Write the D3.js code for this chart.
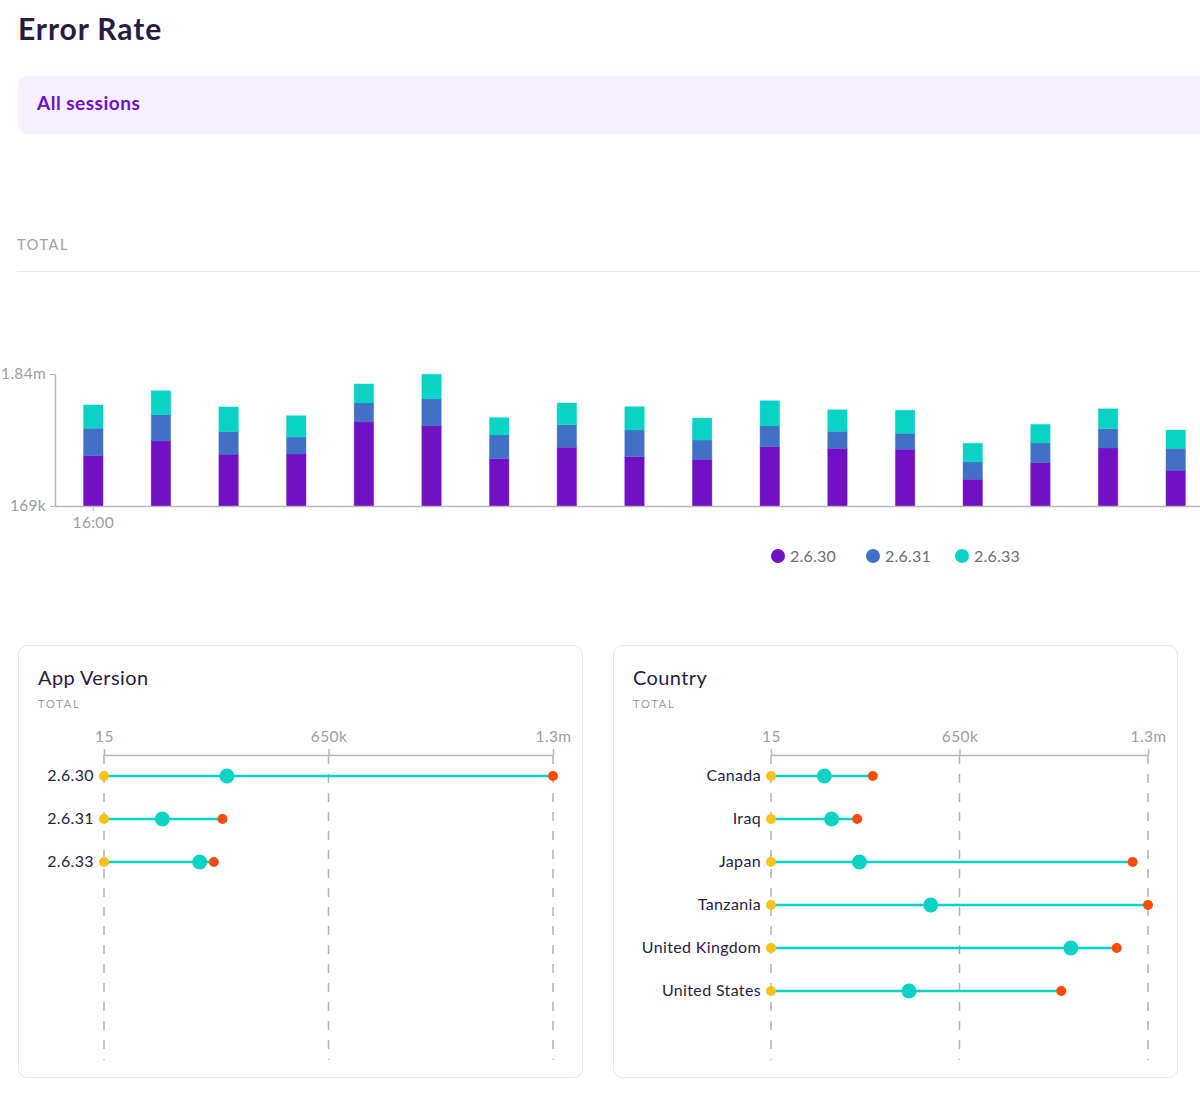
<!DOCTYPE html>
<html>
<head>
<meta charset="utf-8">
<script src="https://cdn.jsdelivr.net/npm/d3@7"></script>
<style>
  body { margin: 0; background: #fff; }
  svg { display: block; font-family: Lato, "Noto Sans", sans-serif; }
</style>
</head>
<body>
<div id="error_rate"></div>
<script>
// ---- data ----
var times = ["16:00", "16:05", "16:10", "16:15", "16:20", "16:25", "16:30", "16:35", "16:40",
             "16:45", "16:50", "16:55", "17:00", "17:05", "17:10", "17:15", "17:20"];
var versions = ["2.6.30", "2.6.31", "2.6.33"];
var v2630 = [806000, 992000, 824000, 827000, 1232000, 1182000, 768000, 912000, 793000,
             760000, 920000, 899000, 887000, 507000, 717000, 903000, 621000];
var v2631 = [347000, 333000, 286000, 215000, 241000, 342000, 300000, 286000, 338000,
             244000, 262000, 215000, 203000, 219000, 249000, 244000, 278000];
var v2633 = [295000, 304000, 313000, 270000, 241000, 313000, 219000, 275000, 295000,
             278000, 320000, 273000, 291000, 237000, 237000, 253000, 232000];
var totalTicks = [169000, 1840000];

var appVersions = ["2.6.30", "2.6.31", "2.6.33"];
var appMin = [15, 15, 15];
var appMid = [356000, 169000, 277000];
var appMax = [1300000, 343000, 318000];

var countries = ["Canada", "Iraq", "Japan", "Tanzania", "United Kingdom", "United States"];
var countryMin = [15, 15, 15, 15, 15, 15];
var countryMid = [184000, 209000, 305000, 551000, 1034000, 476000];
var countryMax = [351000, 297000, 1247000, 1300000, 1192000, 1001000];
var rangeTicks = [15, 650000, 1300000];

var colors = { "2.6.30": "#7210c5", "2.6.31": "#4270c5", "2.6.33": "#0ad3c6" };
var dark = "#2b1b42", grey = "#9d9d9d", axisGrey = "#b8b8b8";
var minColor = "#fbc117", maxColor = "#ff4a0a", midColor = "#0ad3c6";

function fmt(v) {
  if (v >= 1e6) return +(v / 1e6).toFixed(2) + "m";
  if (v >= 1e3) return Math.round(v / 1e3) + "k";
  return String(v);
}

var svg = d3.select("#error_rate")
  .append("svg")
    .attr("width", 1200)
    .attr("height", 1093);

// header
svg.append("text")
  .attr("x", 18).attr("y", 40)
  .attr("font-size", 30).attr("font-weight", 700)
  .attr("letter-spacing", 0.9)
  .attr("fill", dark)
  .text("Error Rate");

svg.append("rect")
  .attr("x", 18).attr("y", 76)
  .attr("width", 1200).attr("height", 58)
  .attr("rx", 9)
  .attr("fill", "#f6effd");
svg.append("text")
  .attr("x", 37).attr("y", 110)
  .attr("font-size", 19).attr("font-weight", 700)
  .attr("letter-spacing", 0.5)
  .attr("fill", "#6d12c9")
  .text("All sessions");

svg.append("text")
  .attr("x", 17).attr("y", 250)
  .attr("font-size", 14.5).attr("letter-spacing", 1.6)
  .attr("fill", "#a2a2a2")
  .text("TOTAL");
svg.append("line")
  .attr("x1", 17).attr("x2", 1200)
  .attr("y1", 271.5).attr("y2", 271.5)
  .attr("stroke", "#e7e7e7");

// ---- stacked bars ----
var rows = times.map(function(t, i) {
  return { time: t, "2.6.30": v2630[i], "2.6.31": v2631[i], "2.6.33": v2633[i] };
});
var series = d3.stack().keys(versions)(rows);

var xScale = d3.scaleBand()
  .domain(times)
  .range([55, 1214])
  .paddingInner(0.712)
  .paddingOuter(0.422);

var yScale = d3.scaleLinear()
  .domain([totalTicks[0], totalTicks[1]])
  .range([506, 374])
  .clamp(true);

var bars = svg.append("g");
bars.selectAll("g")
  .data(series)
  .enter().append("g")
    .attr("fill", function(d) { return colors[d.key]; })
    .attr("stroke", function(d) { return colors[d.key]; })
    .attr("stroke-opacity", 0.35)
  .selectAll("rect")
  .data(function(d) { return d; })
  .enter().append("rect")
    .attr("x", function(d) { return xScale(d.data.time); })
    .attr("width", xScale.bandwidth())
    .attr("y", function(d) { return yScale(d[1]); })
    .attr("height", function(d) { return yScale(d[0]) - yScale(d[1]); });

var yAxis = svg.append("g")
  .attr("transform", "translate(55,0)")
  .call(d3.axisLeft(yScale).tickValues(totalTicks).tickFormat(fmt).tickSize(5).tickSizeOuter(0));
var xAxis = svg.append("g")
  .attr("transform", "translate(0,506)")
  .call(d3.axisBottom(xScale).tickValues([times[0]]).tickSize(5).tickSizeOuter(0));

[yAxis, xAxis].forEach(function(a) {
  a.select(".domain").attr("stroke", axisGrey).attr("stroke-width", 1.5);
  a.selectAll(".tick line").attr("stroke", axisGrey);
  a.selectAll(".tick text")
    .attr("fill", grey)
    .attr("font-size", 15.5)
    .attr("letter-spacing", 0.3)
    .attr("font-family", "Lato, 'Noto Sans', sans-serif");
});
yAxis.selectAll(".tick text").attr("x", -9);
xAxis.selectAll(".tick text").attr("dy", "0.9em");

// legend
var legendX = [778, 873, 962];
var legend = svg.append("g").selectAll("g")
  .data(versions)
  .enter().append("g")
    .attr("transform", function(d, i) { return "translate(" + legendX[i] + ",556)"; });
legend.append("circle").attr("r", 7).attr("fill", function(d) { return colors[d]; });
legend.append("text")
  .attr("x", 12).attr("dy", "0.35em")
  .attr("font-size", 16).attr("letter-spacing", 0.2)
  .attr("fill", "#6f6f6f")
  .text(function(d) { return d; });

// ---- range panels ----
function drawPanel(left, title, labels, mins, mids, maxs, x0, x1) {
  var g = svg.append("g");

  g.append("rect")
    .attr("x", left + 0.5).attr("y", 645.5)
    .attr("width", 564).attr("height", 432)
    .attr("rx", 9)
    .attr("fill", "#fff")
    .attr("stroke", "#e6e6e6");

  g.append("text")
    .attr("x", left + 20).attr("y", 685)
    .attr("font-size", 20).attr("letter-spacing", 0.4)
    .attr("fill", dark)
    .text(title);
  g.append("text")
    .attr("x", left + 20).attr("y", 708)
    .attr("font-size", 11).attr("letter-spacing", 1.8)
    .attr("fill", grey)
    .text("TOTAL");

  var xs = d3.scaleLinear()
    .domain([rangeTicks[0], rangeTicks[2]])
    .range([x0, x1]);
  var ys = d3.scalePoint()
    .domain(labels)
    .range([776, 776 + 43 * (labels.length - 1)]);

  // dashed guides
  g.append("g").selectAll("line")
    .data(rangeTicks)
    .enter().append("line")
      .attr("x1", function(d) { return xs(d); })
      .attr("x2", function(d) { return xs(d); })
      .attr("y1", 755).attr("y2", 1060)
      .attr("stroke", "#b3b3b3")
      .attr("stroke-width", 1.5)
      .attr("stroke-dasharray", "9,10");

  var ax = g.append("g")
    .attr("transform", "translate(0,755)")
    .call(d3.axisTop(xs).tickValues(rangeTicks).tickFormat(fmt).tickSize(6).tickSizeOuter(0));
  ax.select(".domain").attr("stroke", axisGrey).attr("stroke-width", 1.5);
  ax.selectAll(".tick line").attr("stroke", axisGrey).attr("stroke-width", 1.5);
  ax.selectAll(".tick text")
    .attr("fill", grey).attr("font-size", 15.5)
    .attr("letter-spacing", 0.4)
    .attr("font-family", "Lato, 'Noto Sans', sans-serif")
    .attr("y", -13);

  var row = g.append("g").selectAll("g")
    .data(labels)
    .enter().append("g")
      .attr("transform", function(d) { return "translate(0," + ys(d) + ")"; });

  row.append("text")
    .attr("x", x0 - 10).attr("dy", "0.32em")
    .attr("text-anchor", "end")
    .attr("font-size", 16).attr("letter-spacing", 0.35)
    .attr("fill", dark)
    .text(function(d) { return d; });
  row.append("line")
    .attr("x1", function(d, i) { return xs(mins[i]); })
    .attr("x2", function(d, i) { return xs(maxs[i]); })
    .attr("stroke", midColor).attr("stroke-width", 2.5);
  row.append("circle")
    .attr("cx", function(d, i) { return xs(mins[i]); })
    .attr("r", 5).attr("fill", minColor);
  row.append("circle")
    .attr("cx", function(d, i) { return xs(maxs[i]); })
    .attr("r", 5).attr("fill", maxColor);
  row.append("circle")
    .attr("cx", function(d, i) { return xs(mids[i]); })
    .attr("r", 7.5).attr("fill", midColor);
}

drawPanel(18, "App Version", appVersions, appMin, appMid, appMax, 104, 553);
drawPanel(613, "Country", countries, countryMin, countryMid, countryMax, 771, 1148);
</script>
</body>
</html>
